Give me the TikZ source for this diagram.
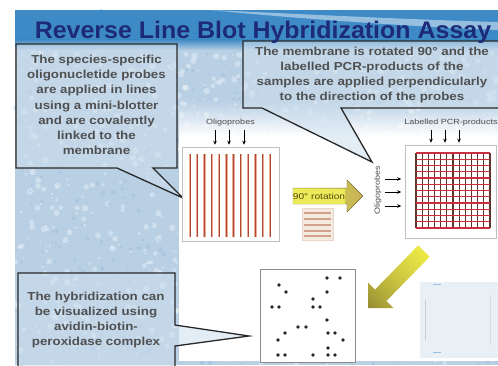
\documentclass[tikz,border=0pt]{standalone}
\usepackage{fontspec}
\setmainfont{Liberation Sans}
\newfontfamily\titlefont[FakeStretch=1.04]{Liberation Sans}
\newfontfamily\boxfont[FakeStretch=1.15]{Liberation Sans}
\newfontfamily\smallfont[FakeStretch=1.2]{Liberation Sans}
\usetikzlibrary{arrows.meta,fadings,shadings}

\definecolor{bgblue}{RGB}{184,207,228}
\definecolor{blobdark}{RGB}{150,182,214}
\definecolor{hdrblue}{RGB}{62,138,198}
\definecolor{titleblue}{RGB}{28,42,120}
\definecolor{boxblue}{RGB}{205,223,238}
\definecolor{boxborder}{RGB}{40,40,40}
\definecolor{boxtextcol}{RGB}{80,80,80}
\definecolor{stripeout}{RGB}{232,170,150}
\definecolor{stripein}{RGB}{176,74,48}
\definecolor{gridv}{RGB}{90,55,45}
\definecolor{gridh}{RGB}{200,48,64}
\definecolor{rotyellow}{RGB}{232,232,60}
\definecolor{rotolive}{RGB}{196,176,90}
\definecolor{rottext}{RGB}{90,72,20}
\definecolor{arryellow}{RGB}{240,238,70}
\definecolor{arrolive}{RGB}{150,140,50}
\definecolor{arrmid}{RGB}{215,210,70}
\definecolor{iconfill}{RGB}{244,234,224}
\definecolor{iconline}{RGB}{210,160,140}
\definecolor{faint}{RGB}{232,239,245}
\definecolor{faintmark}{RGB}{120,170,220}

\tikzfading[name=fadetop, top color=transparent!100, bottom color=transparent!0]

\begin{document}
\begin{tikzpicture}[x=1pt,y=-1pt,
  callout/.style={draw=boxborder, line width=1.3pt, fill=boxblue, fill opacity=0.55, line join=miter},
  boxtext/.style={align=center, text=boxtextcol, inner sep=0pt,
    font=\boxfont\bfseries\fontsize{11.6}{15.2}\selectfont},
  membrane/.style={draw=black!25, fill=white, line width=0.6pt, inner sep=0pt},
  smalllabel/.style={text=black!70, inner sep=0pt, font=\smallfont\fontsize{7.5}{9}\selectfont},
  probearrow/.style={-{Stealth[length=4pt,width=3.6pt]}, line width=0.7pt, black},
  stripeo/.style={stripeout, line width=2.4pt},
  stripei/.style={stripein, line width=0.9pt},
  dot/.style={fill=black!85}
]
\useasboundingbox (0,0) rectangle (498,365);
\fill[white] (0,0) rectangle (498,365);

% slide background with mottled texture
\fill[bgblue] (15,10) rectangle (498,365);
\pgfmathsetseed{12345}
\foreach \i in {1,...,1100}{
  \pgfmathsetmacro{\xx}{15+483*rnd}
  \pgfmathsetmacro{\yy}{10+355*rnd}
  \pgfmathsetmacro{\rr}{0.8+2.6*rnd}
  \fill[white,opacity=0.35] (\xx,\yy) circle[radius=\rr];
}
\foreach \i in {1,...,700}{
  \pgfmathsetmacro{\xx}{15+483*rnd}
  \pgfmathsetmacro{\yy}{10+355*rnd}
  \pgfmathsetmacro{\rr}{0.6+1.8*rnd}
  \fill[blobdark,opacity=0.35] (\xx,\yy) circle[radius=\rr];
}

% white work area
\fill[white, path fading=fadetop] (179,100) rectangle (498,136);
\fill[white] (179,135.5) rectangle (498,361);

% header band
\fill[hdrblue] (15,10) rectangle (498,40);
\shade[top color=hdrblue, bottom color=bgblue] (15,39.5) rectangle (498,50);
\fill[white, opacity=0.45] (210,10) .. controls (300,14) and (420,20) .. (498,22)
  -- (498,30) .. controls (420,27) and (300,19) .. (210,10) -- cycle;

% callouts
\draw[callout] (16,44) -- (177,44) -- (177,168) -- (153,168) -- (183,198) -- (117,168) -- (16,168) -- cycle;
\draw[callout] (243,41) -- (505,41) -- (505,108) -- (341,108) -- (372,162) -- (262,108) -- (243,108) -- cycle;
\draw[callout] (18,273) -- (175,273) -- (175,325) -- (249,336) -- (175,346) -- (175,372) -- (18,372) -- cycle;

\node[boxtext] (t1) at (96.5,105) {The species-specific\\oligonucletide probes\\are applied in lines\\using a mini-blotter\\and are covalently\\linked to the\\membrane};
\node[boxtext] (t2) at (372,75) {The membrane is rotated 90° and the\\labelled PCR-products of the\\samples are applied perpendicularly\\to the direction of the probes};
\node[boxtext] (t3) at (96,320) {The hybridization can\\be visualized using\\avidin-biotin-\\peroxidase complex};

% title
\node[anchor=base, inner sep=0pt, text=titleblue, font=\titlefont\bfseries\fontsize{24}{28}\selectfont] (title) at (263,38) {Reverse Line Blot Hybridization Assay};

% membrane 1 with probe lines
\node[membrane, minimum width=97pt, minimum height=94pt] (mem1) at (230.5,194) {};
\foreach \k in {0,...,11}{
  \pgfmathsetmacro{\sx}{190+\k*7.27}
  \draw[stripeo] (\sx,154) -- (\sx,237);
  \draw[stripei] (\sx,154) -- (\sx,237);
}
\node[smalllabel] (lab1) at (230.5,123) {Oligoprobes};
\foreach \dx in {-15.5,-1.5,13.5}{
  \draw[probearrow] ([xshift=\dx pt, yshift=-3pt]lab1.south) -- ([xshift=\dx pt, yshift=2pt]mem1.north);
}

% rotation arrow
\shadedraw[left color=rotyellow, right color=rotolive, draw=rotolive!60!black, line width=0.4pt]
  (293,188) -- (347,188) -- (347,180) -- (363,196) -- (347,212) -- (347,204) -- (293,204) -- cycle;
\node[fill=rotyellow!85!white, inner sep=0pt, minimum width=52pt, minimum height=15pt, text=rottext,
  font=\smallfont\fontsize{8.5}{10}\selectfont] (rotlab) at (319,196) {90° rotation};
\node[draw=iconline!45, fill=iconfill, line width=0.5pt, minimum width=31pt, minimum height=32pt, inner sep=0pt] (icon) at (317.5,224) {};
\foreach \yy in {213,219,225,231,236}{
  \draw[iconline, line width=1.1pt] (304,\yy) -- (331,\yy);
}

% membrane 2 with grid
\node[membrane, minimum width=91pt, minimum height=93pt] (mem2) at (451,191.5) {};
\foreach \k in {0,...,12}{
  \pgfmathsetmacro{\gx}{416+\k*6.1667}
  \draw[gridv, line width=1.1pt] (\gx,153) -- (\gx,228);
}
\foreach \k in {0,...,12}{
  \pgfmathsetmacro{\gy}{153+\k*6.25}
  \draw[gridh, line width=1.1pt] (416,\gy) -- (490,\gy);
}
\node[smalllabel] (lab2) at (451,123) {Labelled PCR-products};
\foreach \dx in {-20,-6,8}{
  \draw[probearrow] ([xshift=\dx pt, yshift=-3pt]lab2.south) -- ([xshift=\dx pt, yshift=2pt]mem2.north);
}
\node[smalllabel, rotate=90] (lab3) at (378,190) {Oligoprobes};
\coordinate (o1) at (385,179);
\coordinate (o2) at (385,192);
\coordinate (o3) at (385,206);
\foreach \c in {o1,o2,o3}{
  \draw[probearrow, shorten >=4pt] (\c) -- (\c -| mem2.west);
}

% diagonal yellow arrow
\shade[upper right=arryellow, lower left=arrolive, upper left=arrmid, lower right=arrmid]
  (368,308) -- (393.4,308) -- (386.4,301) -- (429.7,256.7) -- (418.3,245.3) -- (375,289.6) -- (368,282.6) -- cycle;

% result membrane with dots
\node[draw=black!45, fill=white, line width=0.6pt, minimum width=95pt, minimum height=93pt, inner sep=0pt] (memres) at (307.5,315.5) {};
\foreach \p in {(327,278),(340,278),(279,285),(286,292),(327,292),(313,299),(272,307),(279,307),(313,307),(320,307),(327,320),(298,327),(306,327),(285,333),(328,333),(335,333),(278,340),(343,340),(328,348),(278,355),(285,355),(313,355),(328,355),(335,355)}{
  \fill[dot] \p circle[radius=1.9];
}

% faint developed strip image
\node[fill=faint, minimum width=78pt, minimum height=76pt, inner sep=0pt] (faintimg) at (459,320) {};
\draw[faintmark, line width=1pt, opacity=0.7] (433,284) -- (441,284);
\draw[faintmark, line width=1pt, opacity=0.7] (433,352) -- (441,352);
\draw[black!20, line width=0.5pt] (425,300) -- (425,340);
\draw[black!15, line width=0.5pt] (490,295) -- (490,345);
\end{tikzpicture}
\end{document}
